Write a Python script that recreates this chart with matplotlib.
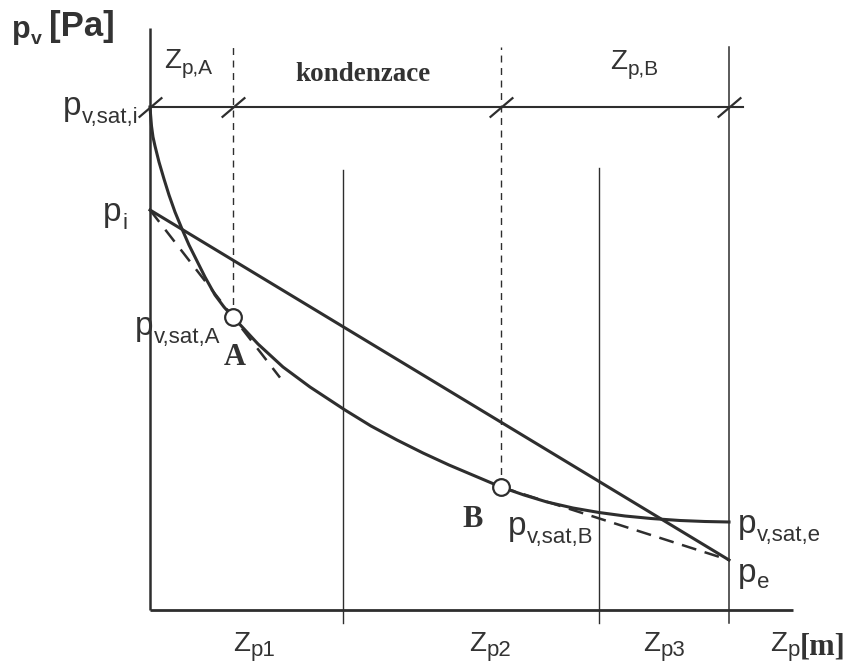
import matplotlib
matplotlib.use("Agg")
import matplotlib.pyplot as plt

# ---- data (drawing units: wall depth Zp, vapour pressure pv) ----
z_interfaces = [0, 193, 449, 579]      # interior surface, Zp1, Zp2, Zp3 (= exterior)
z_plane_A = 83                          # condensation plane A
z_plane_B = 351                         # condensation plane B
z_axis_end = 643
p_axis_top = 582

p_sat_i = 503
p_i = 400
p_e = 50
p_sat_e = 88
p_sat_A = 293
p_sat_B = 123

# saturation vapour pressure through the wall
z_sat = [0, 0.6, 1.5, 3, 5, 9, 14, 19, 25, 32, 39, 47, 55, 65, 74, 83,
         108, 133, 160, 195, 221, 247, 273, 299, 325, 351,
         374, 397, 423, 449, 475, 501, 530, 555, 579]
p_sat = [503, 495, 484, 473, 464, 448, 431, 415, 398, 381, 365, 349, 333, 315, 303, 293,
         266, 243, 223, 200, 184, 170, 157, 145, 134, 123,
         115, 108, 102, 97.5, 94, 91.5, 89.5, 88.5, 88]

z_tangent_A_end = 130                   # dashed tangent from p_i through A

SANS = "Liberation Sans"
SERIF = "Liberation Serif"
INK = "#2e2e2e"
TXT = "#333333"

fig = plt.figure(figsize=(8.5, 6.66), dpi=100)
ax = fig.add_axes([0, 0, 1, 1])
ax.set_xlim(-150, 700)
ax.set_ylim(-56, 610)
ax.axis("off")

# axes of the diagram
ax.plot([0, 0], [0, p_axis_top], color=INK, lw=1.8, solid_capstyle="butt")
ax.plot([0, z_axis_end], [0, 0], color=INK, lw=2.0, solid_capstyle="butt")

# layer interfaces
ax.plot([z_interfaces[1]] * 2, [-13, 440], color=INK, lw=1.0)
ax.plot([z_interfaces[2]] * 2, [-13, 442], color=INK, lw=1.0)
ax.plot([z_interfaces[3]] * 2, [-13, 563], color=INK, lw=1.1)

# condensation planes
ax.plot([z_plane_A] * 2, [p_sat_A, 568], color=INK, lw=1.0, ls=(0, (5, 4)))
ax.plot([z_plane_B] * 2, [p_sat_B, 563], color=INK, lw=1.0, ls=(0, (5, 4)))

# zone dimension line with slash ticks
ax.plot([0, 593], [p_sat_i, p_sat_i], color=INK, lw=1.5)
slash = [(-1, -0.85), (1, 0.85)]
ax.plot([0, z_plane_A, z_plane_B, z_interfaces[3]], [p_sat_i] * 4, ls="none",
        marker=slash, markersize=17, markeredgewidth=1.6, color=INK)

# saturation pressure curve
ax.plot(z_sat, p_sat, color=INK, lw=2.2, solid_joinstyle="round")

# partial vapour pressure without condensation
ax.plot([0, z_interfaces[3]], [p_i, p_e], color=INK, lw=2.2)

# tangents of the condensation zone
slope_A = (p_sat_A - p_i) / z_plane_A
ax.plot([0, z_tangent_A_end], [p_i, p_i + slope_A * z_tangent_A_end],
        color=INK, lw=1.8, ls=(0, (6, 4)))
ax.plot([z_plane_B, z_interfaces[3]], [p_sat_B, p_e], color=INK, lw=1.8,
        ls=(0, (6, 3.5)))

# condensation points
ax.plot([z_plane_A, z_plane_B], [p_sat_A, p_sat_B], ls="none", marker="o",
        markersize=12, markerfacecolor="white", markeredgecolor=INK,
        markeredgewidth=1.6, zorder=5)


def sub_label(x, y, main, sub, size=24, sub_size=16, drop=-3.5, gap=0.5,
              weight="normal", family=SANS):
    t = ax.text(x, y, main, fontsize=size, ha="left", va="baseline",
                family=family, weight=weight, color=TXT)
    s = ax.annotate(sub, xy=(1, 0), xycoords=t, xytext=(gap, drop),
                    textcoords="offset points", fontsize=sub_size, va="bottom",
                    ha="left", family=family, weight=weight, color=TXT)
    return t, s


# vertical axis title
sub_label(-138, 572, "p", "v", size=22, sub_size=14, drop=-2.5, weight="bold")
ax.text(-101, 574, "[Pa]", fontsize=25, weight="bold", family=SANS,
        color=TXT, va="baseline")

# zone headings
sub_label(14, 542, "Z", "p,A", size=20, sub_size=15, drop=-3)
ax.text(145, 529, "kondenzace", fontsize=19.5, weight="bold", family=SERIF,
        color=TXT, va="baseline")
sub_label(460, 541, "Z", "p,B", size=20, sub_size=15, drop=-3)

# pressure labels
sub_label(-87, 495, "p", "v,sat,i", drop=-4)
sub_label(-47, 389, "p", "i", drop=-4)
sub_label(-15, 275, "p", "v,sat,A", drop=-4)
ax.text(85, 245, "A", fontsize=22, weight="bold", family=SERIF, color=TXT,
        ha="center", va="baseline")
ax.text(323, 83, "B", fontsize=22, weight="bold", family=SERIF, color=TXT,
        ha="center", va="baseline")
sub_label(358, 75, "p", "v,sat,B", drop=-4)
sub_label(588, 77, "p", "v,sat,e", drop=-4)
sub_label(588, 28, "p", "e", drop=-3)

# depth labels
sub_label(83, -41, "Z", "p1", size=20, sub_size=16, drop=-3)
sub_label(319, -41, "Z", "p2", size=20, sub_size=16, drop=-3)
sub_label(493, -41, "Z", "p3", size=20, sub_size=16, drop=-3)
tz, sz = sub_label(620, -41, "Z", "p", size=20, sub_size=16, drop=-3)
ax.annotate("[m]", xy=(1, 0), xycoords=sz, xytext=(0, 0),
            textcoords="offset points", fontsize=22, weight="bold",
            family=SERIF, color=TXT, va="bottom", ha="left")

fig.savefig("out.png", dpi=100, facecolor="white")
